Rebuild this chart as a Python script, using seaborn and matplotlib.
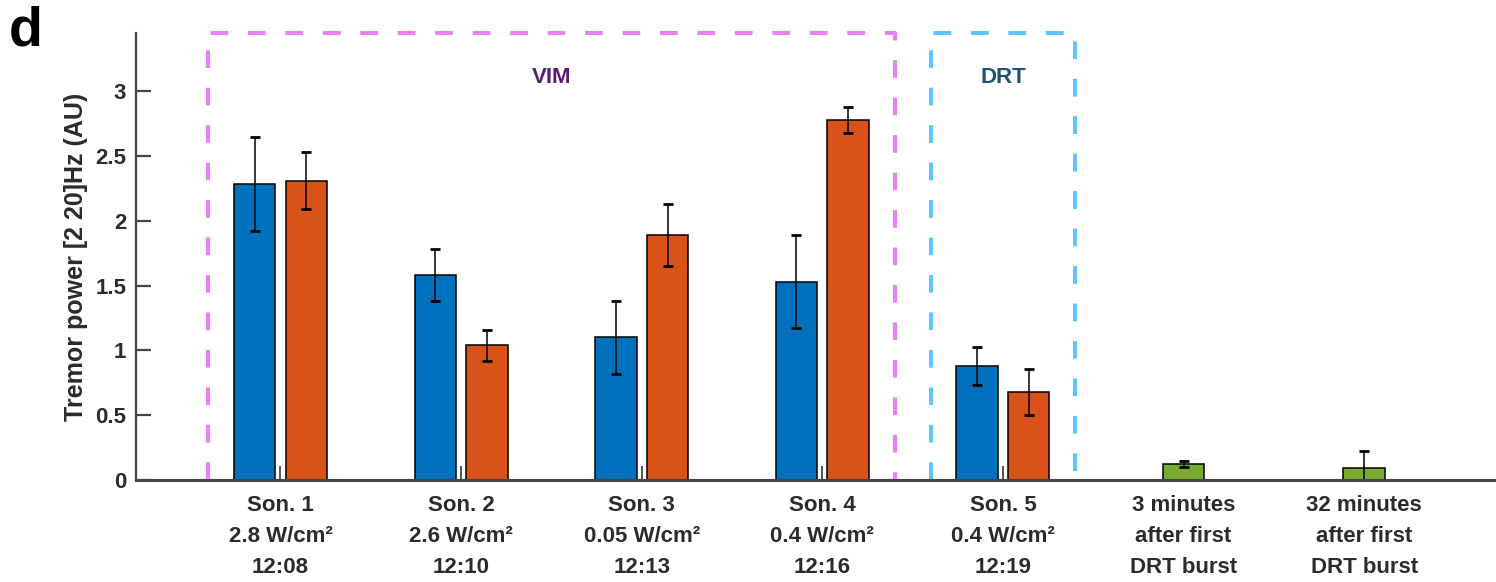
import matplotlib
matplotlib.use("Agg")
import matplotlib.pyplot as plt
import seaborn as sns
import pandas as pd

# ---------------- data ----------------
group_labels = [
    "Son. 1\n2.8 W/cm²\n12:08",
    "Son. 2\n2.6 W/cm²\n12:10",
    "Son. 3\n0.05 W/cm²\n12:13",
    "Son. 4\n0.4 W/cm²\n12:16",
    "Son. 5\n0.4 W/cm²\n12:19",
    "3 minutes\nafter first\nDRT burst",
    "32 minutes\nafter first\nDRT burst",
]
son_positions = [1, 2, 3, 4, 5]
after_positions = [6, 7]
pre_vals = [2.285, 1.58, 1.10, 1.53, 0.88]
pre_err = [0.365, 0.20, 0.28, 0.36, 0.15]
post_vals = [2.31, 1.04, 1.89, 2.78, 0.68]
post_err = [0.22, 0.12, 0.24, 0.10, 0.175]
after_vals = [0.124, 0.093]
after_err = [0.025, 0.13]
series_names = ["pre", "post"]
ytick_vals = [0, 0.5, 1, 1.5, 2, 2.5, 3]
ytick_labels = ["0", "0.5", "1", "1.5", "2", "2.5", "3"]

c_blue = "#0072BD"
c_orange = "#D95319"
c_green = "#77AC30"
c_mag = "#EA80F6"
c_cyan = "#5CC6F6"
txt = "#2b2b2b"

sns.set_style("white")
plt.rcParams["font.family"] = ["Liberation Sans", "DejaVu Sans"]
plt.rcParams["font.weight"] = "bold"

df = pd.DataFrame({
    "pos": son_positions * 2,
    "val": pre_vals + post_vals,
    "series": [series_names[0]] * 5 + [series_names[1]] * 5,
})
df2 = pd.DataFrame({"pos": after_positions, "val": after_vals})

fig = plt.figure(figsize=(14.96, 5.82), dpi=100)
ax = fig.add_axes([0.0909, 0.1753, 0.9091, 0.7680])

sns.barplot(data=df, x="pos", y="val", hue="series", hue_order=series_names,
            palette={"pre": c_blue, "post": c_orange}, native_scale=True,
            width=0.572, gap=0.2, errorbar=None, saturation=1,
            edgecolor="black", linewidth=1.1, legend=False, ax=ax, zorder=2)
sns.barplot(data=df2, x="pos", y="val", native_scale=True, width=0.2288,
            color=c_green, errorbar=None, saturation=1, edgecolor="black",
            linewidth=1.1, ax=ax, zorder=2)

errs = [pre_err, post_err, after_err]
for cont, err in zip(ax.containers, errs):
    xs = [b.get_x() + b.get_width() / 2 for b in cont]
    ys = [b.get_height() for b in cont]
    ax.errorbar(xs, ys, yerr=err, fmt="none", ecolor="black", elinewidth=1.1,
                capsize=3.6, capthick=2, zorder=3)

# dashed boxes
dash = (0, (4.4, 4.9))
ax.plot([0.6, 0.6, 4.4, 4.4], [0, 3.45, 3.45, 0], color=c_mag, lw=2.9,
        linestyle=dash, clip_on=False, zorder=4)
ax.plot([4.6, 4.6, 5.4, 5.4], [0, 3.45, 3.45, 0], color=c_cyan, lw=2.9,
        linestyle=dash, clip_on=False, zorder=4)
ax.text(2.5, 3.11, "VIM", color="#5B1A76", fontsize=16, fontweight="bold",
        ha="center", va="center")
ax.text(5.0, 3.11, "DRT", color="#1F5373", fontsize=16, fontweight="bold",
        ha="center", va="center")

ax.set_xlim(0.2, 7.73)
ax.set_ylim(0, 3.45)
ax.set_axisbelow(True)
ax.set_xticks(list(range(1, 8)))
ax.set_xticklabels(group_labels, fontsize=16, fontweight="bold", color=txt,
                   linespacing=1.62)
ax.set_yticks(ytick_vals)
ax.set_yticklabels(ytick_labels, fontsize=16, fontweight="bold", color=txt)
ax.tick_params(axis="x", bottom=True, direction="in", length=10, width=1.4,
               color="#555555", pad=11)
ax.tick_params(axis="y", left=True, direction="in", length=11, width=1.6,
               color="#444444", pad=7)
ax.set_xlabel("")
ax.set_ylabel("Tremor power [2 20]Hz (AU)", fontsize=18, fontweight="bold",
              color=txt, labelpad=5)

for s in ["top", "right"]:
    ax.spines[s].set_visible(False)
ax.spines["left"].set_color("#444444")
ax.spines["left"].set_linewidth(1.6)
ax.spines["bottom"].set_color("#444444")
ax.spines["bottom"].set_linewidth(2.2)
ax.spines["bottom"].set_zorder(5)

fig.text(0.006, 0.99, "d", fontsize=40, fontweight="bold", color="black",
         ha="left", va="top")

fig.savefig("out.png", dpi=100)
